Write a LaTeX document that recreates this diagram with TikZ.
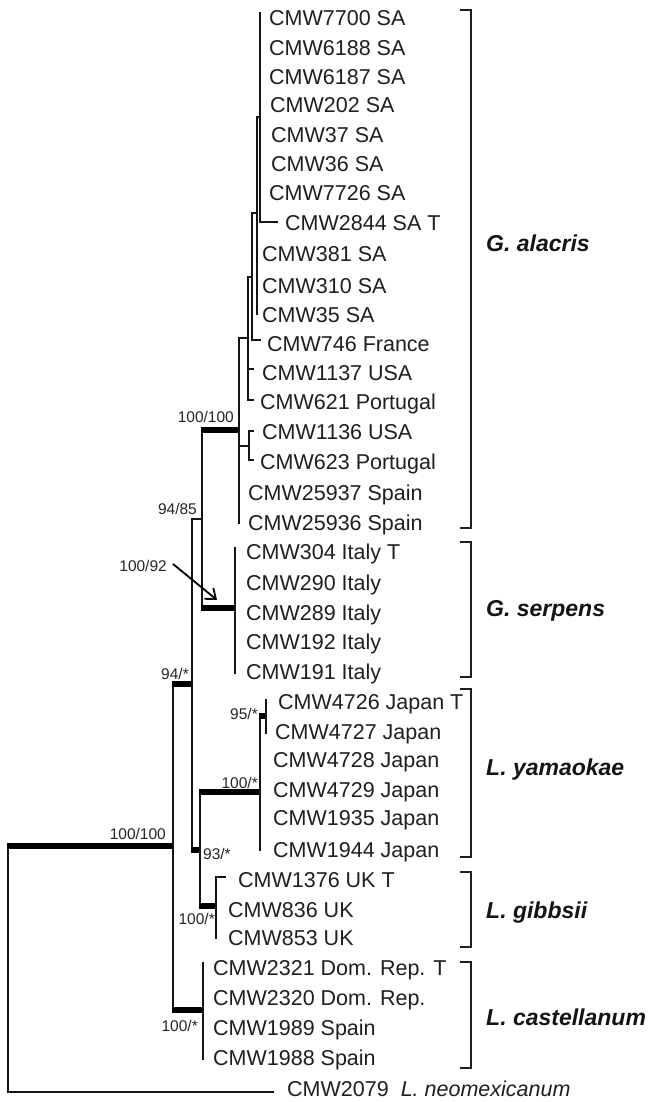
\documentclass[tikz,border=0pt]{standalone}
\usepackage{fontspec}
\setmainfont{Liberation Sans}
\usetikzlibrary{arrows.meta}
\begin{document}
\begin{tikzpicture}[x=1pt,y=-1pt,
  br/.style={line width=2.1pt, line cap=rect, draw=black!92},
  tk/.style={line width=6.5pt, draw=black},
  brk/.style={line width=2.4pt, draw=black!88},
  leaf/.style={anchor=base west, inner sep=0pt, font=\fontsize{21.5}{24}\selectfont, text=black!88},
  bs/.style={inner sep=0pt, font=\fontsize{15.5}{18}\selectfont, text=black!85},
  clade/.style={anchor=base west, inner sep=0pt, font=\fontsize{23}{26}\selectfont\bfseries\itshape, text=black!92}]
\useasboundingbox (0,0) rectangle (653,1102);
\fill[white] (0,0) rectangle (653,1102);
\newcommand\leafnode[4]{\node[leaf] (#1) at (#2,#3+7.7) {#4};}
% ---- leaves
\leafnode{a7700}{269}{18}{CMW7700 SA}
\leafnode{a6188}{269}{48}{CMW6188 SA}
\leafnode{a6187}{269}{77}{CMW6187 SA}
\leafnode{a202}{270}{105}{CMW202 SA}
\leafnode{a37}{271}{135}{CMW37 SA}
\leafnode{a36}{271}{164}{CMW36 SA}
\leafnode{a7726}{269}{193}{CMW7726 SA}
\leafnode{a2844}{285}{223}{CMW2844 SA T}
\leafnode{a381}{262}{254}{CMW381 SA}
\leafnode{a310}{262}{286}{CMW310 SA}
\leafnode{a35}{262}{315}{CMW35 SA}
\leafnode{a746}{267}{344}{CMW746 France}
\leafnode{a1137}{262}{373}{CMW1137 USA}
\leafnode{a621}{260}{402}{CMW621 Portugal}
\leafnode{a1136}{262}{432}{CMW1136 USA}
\leafnode{a623}{260}{462}{CMW623 Portugal}
\leafnode{a25937}{248}{493}{CMW25937 Spain}
\leafnode{a25936}{248}{523}{CMW25936 Spain}
\leafnode{s304}{246}{552}{CMW304 Italy T}
\leafnode{s290}{246}{583}{CMW290 Italy}
\leafnode{s289}{246}{613}{CMW289 Italy}
\leafnode{s192}{246}{642}{CMW192 Italy}
\leafnode{s191}{246}{672}{CMW191 Italy}
\leafnode{y4726}{278}{702}{CMW4726 Japan T}
\leafnode{y4727}{275}{732}{CMW4727 Japan}
\leafnode{y4728}{273}{760}{CMW4728 Japan}
\leafnode{y4729}{273}{790}{CMW4729 Japan}
\leafnode{y1935}{273}{818}{CMW1935 Japan}
\leafnode{y1944}{273}{850}{CMW1944 Japan}
\leafnode{g1376}{238}{880}{CMW1376 UK T}
\leafnode{g836}{228}{910}{CMW836 UK}
\leafnode{g853}{228}{938}{CMW853 UK}
\leafnode{c2321}{213}{968}{CMW2321 Dom. Rep. T}
\leafnode{c2320}{213}{998}{CMW2320 Dom. Rep.}
\leafnode{c1989}{213}{1028}{CMW1989 Spain}
\leafnode{c1988}{213}{1058}{CMW1988 Spain}
\node[leaf] (o2079) at (287,1089+7.7) {CMW2079\hspace{12pt}\textit{L. neomexicanum}};
% ---- tree
\coordinate (root) at (8,846);
\draw[br] (root) -- (8,1092) -- (273,1092);
\draw[tk] (7,846) -- (173,846);
% node A
\draw[br] (173,684) -- (173,1010);
\draw[tk] (172,684) -- (192,684);
\draw[tk] (172,1010) -- (203,1010);
\draw[br] (203,963) -- (203,1059);
% node B
\draw[br] (202,519) -- (192,519) -- (192,850);
\draw[tk] (191,850) -- (200,850);
% node C
\draw[br] (202,430) -- (202,608);
\draw[tk] (201,430) -- (239,430);
\draw[tk] (201,608) -- (235,608);
\draw[br] (235,548) -- (235,673);
% node D
\draw[br] (200,792) -- (200,906);
\draw[tk] (199,792) -- (260,792);
\draw[tk] (199,906) -- (216,906);
\draw[br] (225,877) -- (216,877) -- (216,938);
% yamaokae
\draw[br] (260,715) -- (260,850);
\draw[tk] (259,716) -- (266,716);
\draw[br] (266,700) -- (266,733);
% alacris
\draw[br] (248,338) -- (239,338) -- (239,523);
\draw[br] (239,446) -- (249,446);
\draw[br] (253,431) -- (249,431) -- (249,460) -- (253,460);
\draw[br] (252,277) -- (248,277) -- (248,400) -- (253,400);
\draw[br] (248,369) -- (253,369);
\draw[br] (257,213) -- (252,213) -- (252,340) -- (260,340);
\draw[br] (260,117) -- (257,117) -- (257,314);
\draw[br] (260,13) -- (260,222) -- (277,222);
% ---- support values
\node[bs, anchor=base east] (b1) at (166,839) {100/100};
\node[bs, anchor=base east] (b2) at (234,422) {100/100};
\node[bs, anchor=base east] (b3) at (197,514) {94/85};
\node[bs, anchor=base east] (b4) at (167,571) {100/92};
\node[bs, anchor=base east] (b5) at (189,679) {94/*};
\node[bs, anchor=base east] (b6) at (258,719) {95/*};
\node[bs, anchor=base east] (b7) at (258,788) {100/*};
\node[bs, anchor=base west] (b8) at (203,859) {93/*};
\node[bs, anchor=base east] (b9) at (215,924) {100/*};
\node[bs, anchor=base east] (b10) at (198,1031) {100/*};
\coordinate (arrtip) at (217,600);
\draw[line width=1.8pt, -{Straight Barb[length=9pt,width=14pt]}] (173,564) -- (arrtip);
% ---- clade brackets
\draw[brk] (460,10) -- (471,10) -- (471,528) -- (460,528);
\draw[brk] (460,542) -- (471,542) -- (471,677) -- (460,677);
\draw[brk] (460,689) -- (471,689) -- (471,857) -- (460,857);
\draw[brk] (460,872) -- (471,872) -- (471,947) -- (460,947);
\draw[brk] (460,962) -- (471,962) -- (471,1068) -- (460,1068);
\node[clade] (galac) at (486,243+8.2) {G. alacris};
\node[clade] (gserp) at (486,608+8.2) {G. serpens};
\node[clade] (lyama) at (486,767+8.2) {L. yamaokae};
\node[clade] (lgibb) at (486,910+8.2) {L. gibbsii};
\node[clade] (lcast) at (486,1017+8.2) {L. castellanum};
\end{tikzpicture}
\end{document}
